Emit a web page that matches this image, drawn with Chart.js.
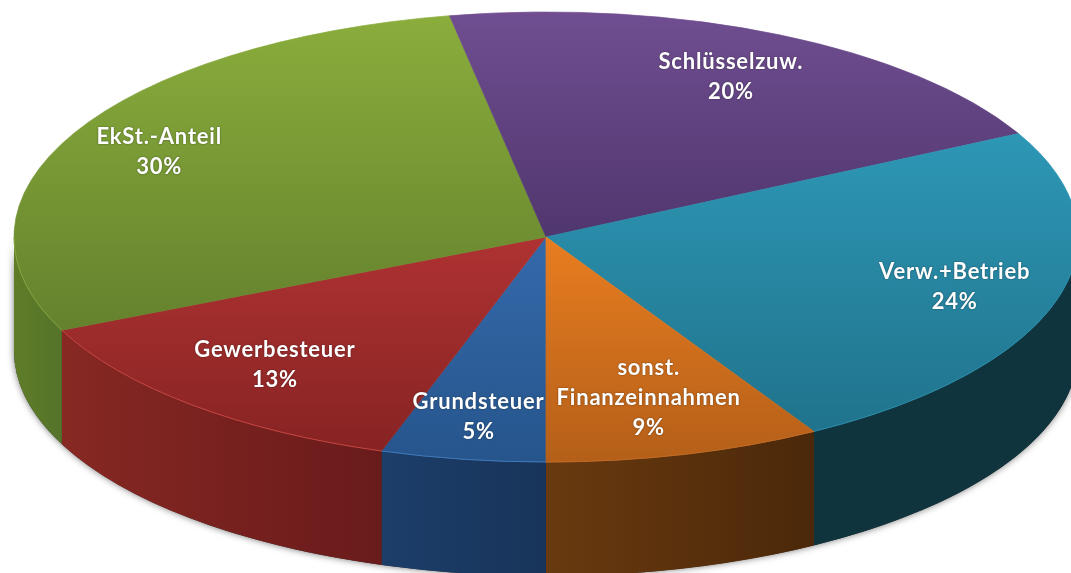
<!DOCTYPE html>
<html>
<head>
<meta charset="utf-8">
<script src="https://cdn.jsdelivr.net/npm/chart.js@4/dist/chart.umd.min.js"></script>
<style>
  html, body { margin: 0; background: #fff; }
  canvas { display: block; }
</style>
</head>
<body>
<canvas id="myChart" width="1071" height="573"></canvas>
<script>
var categories = ["Grundsteuer", "Gewerbesteuer", "EkSt.-Anteil", "Schlüsselzuw.", "Verw.+Betrieb", "sonst.\nFinanzeinnahmen"];
// shares as measured from the slice angles, printed labels are rounded differently in the source
var shares = [5, 13.2, 28.9, 20.3, 24.2, 8.4];
var printed = ["5%", "13%", "30%", "20%", "24%", "9%"];

var topShades = ["#3469aa", "#af3232", "#8aad3c", "#704e91", "#2d97b5", "#e87d20"];
var bottomShades = ["#26558c", "#872323", "#64822d", "#50366e", "#20738c", "#b45f19"];
var wallLeft = ["#1c3e69", "#872823", "#5f7d28", "#000000", "#10343e", "#693a0f"];
var wallRight = ["#18345a", "#691b1b", "#55732a", "#000000", "#10343e", "#4b280a"];
var rimColors = ["#3f78b8", "#c4443f", "#84a53f", "#704e91", "#2a8ba8", "#c06a24"];
var labelReach = [0.81, 0.765, 0.82, 0.79, 0.8, 0.74];

var radiusX = 532;
var radiusY = 225;
var depth = 114;

// gradient for one slice, runs over the height of that slice on the unit circle
function sliceGradient(c) {
  var i = c.dataIndex;
  var area = c.chart.chartArea;
  if (!area || i === undefined) return topShades[0];
  var total = shares.reduce(function (a, b) { return a + b; }, 0);
  var done = shares.slice(0, i).reduce(function (a, b) { return a + b; }, 0);
  var a0 = Math.PI / 2 + (done / total) * Math.PI * 2;
  var a1 = a0 + (shares[i] / total) * Math.PI * 2;
  var ys = [0, Math.sin(a0), Math.sin(a1)];
  for (var k = -1; k <= 5; k++) {
    var q = Math.PI / 2 + k * Math.PI;
    if (q > a0 && q < a1) ys.push(Math.sin(q));
  }
  var cy = area.top + area.height / 2;
  var g = c.chart.ctx.createLinearGradient(0, cy + Math.min.apply(null, ys) * radiusX, 0, cy + Math.max.apply(null, ys) * radiusX);
  g.addColorStop(0, topShades[i]);
  g.addColorStop(1, bottomShades[i]);
  return g;
}

// parts of an arc that face the viewer
function frontRanges(s, e) {
  var out = [];
  [[0, Math.PI], [Math.PI * 2, Math.PI * 3]].forEach(function (r) {
    var a = Math.max(s, r[0]);
    var b = Math.min(e, r[1]);
    if (b > a) out.push([a, b]);
  });
  return out;
}

var tiltPlugin = {
  id: "tilt",
  beforeDatasetsDraw: function (chart) {
    var ctx = chart.ctx;
    var arcs = chart.getDatasetMeta(0).data;
    var cx = arcs[0].x;
    var cy = arcs[0].y;

    // soft shadow under the whole wall
    ctx.save();
    ctx.shadowColor = "rgba(0,0,0,0.55)";
    ctx.shadowBlur = 7;
    ctx.fillStyle = "#333";
    ctx.beginPath();
    ctx.ellipse(cx, cy + depth, radiusX, radiusY, 0, 0, Math.PI);
    ctx.ellipse(cx, cy, radiusX, radiusY, 0, Math.PI, 0, true);
    ctx.closePath();
    ctx.fill();
    ctx.restore();

    arcs.forEach(function (arc, i) {
      frontRanges(arc.startAngle, arc.endAngle).forEach(function (r) {
        var x0 = cx + Math.cos(r[0]) * radiusX;
        var x1 = cx + Math.cos(r[1]) * radiusX;
        var g = ctx.createLinearGradient(Math.min(x0, x1), 0, Math.max(x0, x1), 0);
        g.addColorStop(0, wallLeft[i]);
        g.addColorStop(1, wallRight[i]);
        ctx.fillStyle = g;
        ctx.beginPath();
        ctx.ellipse(cx, cy + depth, radiusX, radiusY, 0, r[0], r[1]);
        ctx.ellipse(cx, cy, radiusX, radiusY, 0, r[1], r[0], true);
        ctx.closePath();
        ctx.fill();
      });
    });

    ctx.save();
    ctx.translate(cx, cy);
    ctx.scale(1, radiusY / radiusX);
    ctx.translate(-cx, -cy);
  },
  afterDatasetsDraw: function (chart) {
    var ctx = chart.ctx;
    ctx.restore();
    var arcs = chart.getDatasetMeta(0).data;
    var cx = arcs[0].x;
    var cy = arcs[0].y;

    arcs.forEach(function (arc, i) {
      frontRanges(arc.startAngle, arc.endAngle).forEach(function (r) {
        ctx.strokeStyle = rimColors[i];
        ctx.lineWidth = 1;
        ctx.beginPath();
        ctx.ellipse(cx, cy, radiusX, radiusY, 0, r[0], r[1]);
        ctx.stroke();
      });
    });

    ctx.font = "bold 22px Lato";
    ctx.letterSpacing = "0.8px";
    ctx.textAlign = "center";
    ctx.textBaseline = "middle";
    ctx.fillStyle = "#fff";
    ctx.shadowColor = "rgba(0,0,0,0.45)";
    ctx.shadowBlur = 2;
    arcs.forEach(function (arc, i) {
      var mid = (arc.startAngle + arc.endAngle) / 2;
      var x = cx + Math.cos(mid) * radiusX * labelReach[i];
      var y = cy + Math.sin(mid) * radiusY * labelReach[i];
      var lines = categories[i].split("\n").concat(printed[i]);
      lines.forEach(function (line, n) {
        ctx.fillText(line, x, y + (n - (lines.length - 1) / 2) * 30);
      });
    });
    ctx.shadowColor = "transparent";
  }
};

var myChart = document.getElementById("myChart").getContext("2d");
var chart = new Chart(myChart, {
  type: "pie",
  data: {
    labels: categories,
    datasets: [
      {
        data: shares,
        backgroundColor: sliceGradient,
        borderColor: sliceGradient,
        borderWidth: 1,
        radius: radiusX,
        clip: false,
      },
    ],
  },
  options: {
    responsive: false,
    animation: false,
    rotation: 180,
    layout: { padding: { left: 21, bottom: 99 } },
    plugins: {
      legend: { display: false },
      tooltip: { enabled: false },
    },
  },
  plugins: [tiltPlugin],
});
</script>
</body>
</html>
